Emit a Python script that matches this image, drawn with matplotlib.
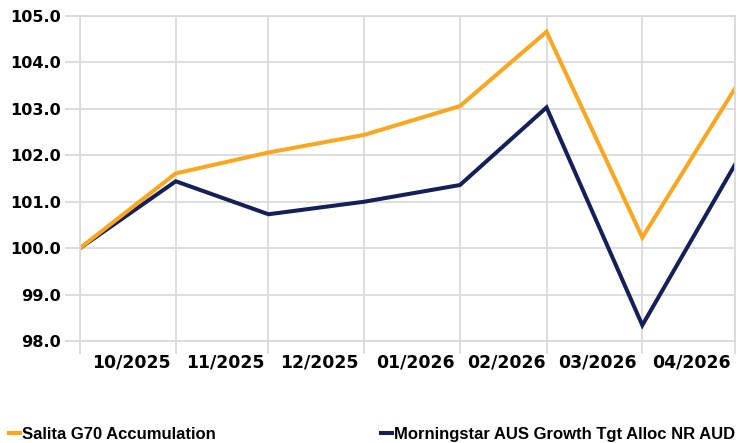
import matplotlib
matplotlib.use("Agg")
import matplotlib.pyplot as plt
import pandas as pd

# month-end values, rebased to 100
dates = ["2025-09-30", "2025-10-31", "2025-11-30", "2025-12-31",
         "2026-01-31", "2026-02-28", "2026-03-31", "2026-04-30"]
salita = [100.0, 101.61, 102.06, 102.44, 103.06, 104.66, 100.23, 103.44]
morningstar = [100.0, 101.44, 100.73, 101.00, 101.36, 103.03, 98.34, 101.80]
month_labels = ["10/2025", "11/2025", "12/2025", "01/2026",
                "02/2026", "03/2026", "04/2026"]

ORANGE = "#FAA61E"
NAVY = "#13205A"
GRID = "#d9d9d9"

x = pd.to_datetime(dates)
# labels sit in the middle of each month
label_pos = [x[i] + (x[i + 1] - x[i]) / 2 + pd.Timedelta(days=1)
             for i in range(len(month_labels))]

fig = plt.figure(figsize=(7.47, 4.43), dpi=100)
ax = fig.add_axes([80 / 747, 1 - 341 / 443, 655 / 747, 325 / 443])

l2, = ax.plot(x, morningstar, color=NAVY, lw=2.9, solid_joinstyle="miter")
l1, = ax.plot(x, salita, color=ORANGE, lw=2.9, solid_joinstyle="miter")

ax.set_xlim(x[0], x[-1])
ax.set_ylim(98, 105)
ax.set_yticks([98, 99, 100, 101, 102, 103, 104, 105])
ax.set_yticklabels([f"{v:.1f}" for v in ax.get_yticks()])

ax.set_xticks(x)
ax.set_xticklabels([])
ax.set_xticks(label_pos, minor=True)
ax.set_xticklabels(month_labels, minor=True)

ax.grid(True, color=GRID, lw=1.25)
ax.set_axisbelow(True)
for s in ax.spines.values():
    s.set_color(GRID)
    s.set_linewidth(1.25)

ax.tick_params(axis="y", length=10.8, width=1.25, color=GRID, pad=2.9,
               labelsize=11.6, labelcolor="black")
ax.tick_params(axis="x", which="major", length=9.4, width=1.25, color=GRID)
ax.tick_params(axis="x", which="minor", length=0, pad=8.8,
               labelsize=12.4, labelcolor="black")
for t in ax.get_yticklabels() + ax.get_xticklabels(minor=True):
    t.set_fontfamily("DejaVu Sans")
    t.set_fontweight("bold")

fig.legend([l1, l2], ["Salita G70 Accumulation",
                      "Morningstar AUS Growth Tgt Alloc NR AUD"],
           loc="lower left", bbox_to_anchor=(9 / 747, 1 / 443), ncol=2,
           frameon=False, handlelength=0.66, handletextpad=0.12,
           columnspacing=9.9, borderpad=0, borderaxespad=0,
           prop={"family": "Liberation Sans", "weight": "bold", "size": 12})

fig.savefig("out.png", dpi=100)
